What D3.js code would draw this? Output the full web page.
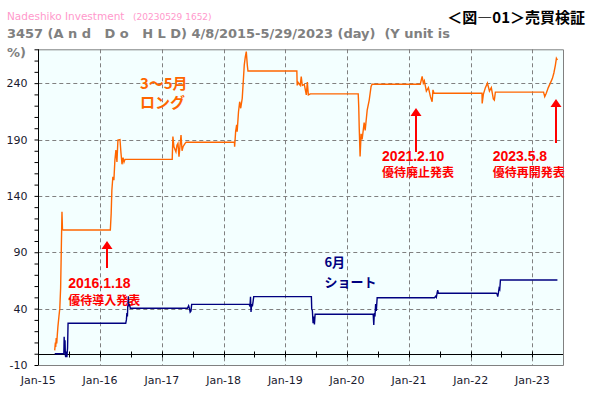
<!DOCTYPE html>
<html>
<head>
<meta charset="utf-8">
<script src="https://cdn.jsdelivr.net/npm/d3@7"></script>
<style>
  body { margin: 0; background: #ffffff; }
  svg { display: block; }
  text { white-space: pre; }
</style>
</head>
<body>
<svg id="chart" width="590" height="396"></svg>
<script>
// 3~5月 long (orange)
const longSeries = [
  ["2015-04-08", 3], ["2015-04-12", 10], ["2015-04-14", 6], ["2015-04-17", 14],
  ["2015-04-20", 9], ["2015-04-23", 16], ["2015-04-27", 24], ["2015-05-03", 33],
  ["2015-05-08", 40], ["2015-05-13", 58], ["2015-05-17", 92], ["2015-05-21", 126],
  ["2015-05-24", 110], ["2015-05-29", 109.7],
  ["2016-03-02", 109.7], ["2016-03-07", 124.5], ["2016-03-11", 145], ["2016-03-17", 157],
  ["2016-03-23", 154], ["2016-03-29", 171.8], ["2016-04-04", 180.7], ["2016-04-10", 170],
  ["2016-04-16", 189.6], ["2016-04-28", 190], ["2016-05-04", 178], ["2016-05-10", 168],
  ["2016-05-16", 174], ["2016-05-22", 170], ["2016-05-28", 172.4],
  ["2017-03-03", 172.4], ["2017-03-07", 192.6], ["2017-03-13", 183.6], ["2017-03-25", 179],
  ["2017-03-31", 185], ["2017-04-06", 186.6], ["2017-04-12", 174.7], ["2017-04-24", 194],
  ["2017-04-30", 180], ["2017-05-06", 183.6], ["2017-05-18", 186.6], ["2017-05-24", 187.5],
  ["2018-03-06", 187.5], ["2018-03-07", 183.6], ["2018-03-13", 197], ["2018-03-19", 203],
  ["2018-03-22", 197], ["2018-03-30", 214.6], ["2018-04-06", 223.5], ["2018-04-12", 217.7],
  ["2018-04-21", 226.5], ["2018-04-27", 241], ["2018-05-03", 256], ["2018-05-09", 263],
  ["2018-05-15", 268], ["2018-05-21", 256], ["2018-05-25", 250.7],
  ["2019-03-10", 250.7], ["2019-03-12", 238], ["2019-03-18", 240.5], ["2019-03-30", 238],
  ["2019-04-05", 245.7], ["2019-04-11", 238], ["2019-04-23", 238.8], ["2019-05-05", 229.5],
  ["2019-05-11", 241], ["2019-05-17", 229.5], ["2019-05-29", 230.5],
  ["2020-03-07", 230.5], ["2020-03-10", 219], ["2020-03-13", 200], ["2020-03-18", 175],
  ["2020-03-24", 195], ["2020-03-30", 190], ["2020-04-11", 205], ["2020-04-17", 198],
  ["2020-04-29", 216], ["2020-05-11", 225], ["2020-05-22", 237], ["2020-05-28", 239],
  ["2021-03-09", 239], ["2021-03-20", 246], ["2021-03-27", 240], ["2021-04-02", 242],
  ["2021-04-14", 233], ["2021-04-26", 236], ["2021-05-08", 228], ["2021-05-18", 223.5],
  ["2021-05-23", 234], ["2021-05-29", 231],
  ["2022-03-09", 231], ["2022-03-10", 222], ["2022-03-17", 230], ["2022-03-29", 236],
  ["2022-04-10", 240], ["2022-04-22", 233], ["2022-05-03", 236], ["2022-05-15", 226],
  ["2022-05-21", 225], ["2022-05-27", 232],
  ["2023-03-08", 232], ["2023-03-15", 228], ["2023-03-24", 231], ["2023-04-05", 236],
  ["2023-04-17", 240], ["2023-04-29", 244], ["2023-05-08", 249], ["2023-05-17", 256],
  ["2023-05-23", 262], ["2023-05-29", 260.5]
];

// 6月 short (navy)
const shortSeries = [
  ["2015-04-08", 0], ["2015-06-01", 0], ["2015-06-03", 15], ["2015-06-05", 3],
  ["2015-06-08", 12], ["2015-06-10", -1], ["2015-06-12", -3], ["2015-06-15", 2],
  ["2015-06-19", -3], ["2015-06-23", 5], ["2015-06-26", 27], ["2015-06-30", 27],
  ["2016-06-01", 27], ["2016-06-05", 30], ["2016-06-08", 36], ["2016-06-11", 33],
  ["2016-06-14", 46], ["2016-06-17", 51], ["2016-06-20", 42], ["2016-06-24", 44],
  ["2016-06-28", 40.3],
  ["2017-06-01", 40.3], ["2017-06-08", 42.5], ["2017-06-13", 40], ["2017-06-17", 37],
  ["2017-06-22", 38], ["2017-06-26", 43.8],
  ["2018-06-01", 43.8], ["2018-06-06", 42], ["2018-06-09", 50.6], ["2018-06-12", 37],
  ["2018-06-16", 44], ["2018-06-20", 42], ["2018-06-24", 46], ["2018-06-28", 50.6],
  ["2019-06-04", 50.6], ["2019-06-06", 40], ["2019-06-10", 38], ["2019-06-14", 27],
  ["2019-06-18", 33], ["2019-06-22", 26], ["2019-06-26", 35],
  ["2020-06-01", 35], ["2020-06-04", 34], ["2020-06-07", 25.5], ["2020-06-10", 36],
  ["2020-06-14", 33], ["2020-06-18", 44], ["2020-06-22", 38], ["2020-06-27", 49.7],
  ["2021-06-01", 49.7], ["2021-06-08", 51], ["2021-06-12", 50], ["2021-06-16", 53.6],
  ["2021-06-20", 56.5], ["2021-06-24", 53.6],
  ["2022-06-01", 53.6], ["2022-06-06", 53], ["2022-06-10", 50.6], ["2022-06-14", 54],
  ["2022-06-18", 58], ["2022-06-22", 57], ["2022-06-26", 65.4], ["2023-05-29", 65.4]
];

const yLabels = [-10, 40, 90, 140, 190, 240];
const xLabels = ["2015-01-01", "2016-01-01", "2017-01-01", "2018-01-01", "2019-01-01",
                 "2020-01-01", "2021-01-01", "2022-01-01", "2023-01-01"];

// red call-outs: arrow at date, from value `tail` up to value `tip`
const events = [
  { date: "2016-02-09", tip: 100, tail: 76, text: ["2016.1.18", "優待導入発表"], tx: "2015-06-27", ty: 58 },
  { date: "2021-02-13", tip: 218, tail: 179, text: ["2021.2.10", "優待廃止発表"], tx: "2020-07-26", ty: 171 },
  { date: "2023-05-23", tip: 226, tail: 187, text: ["2023.5.8", "優待再開発表"], tx: "2022-05-11", ty: 171 }
];

const parseDate = d3.timeParse("%Y-%m-%d");
const plotLeft = 38.3, plotRight = 563, plotTop = 49.3, plotBottom = 365;

const x = d3.scaleTime()
  .domain([parseDate("2015-01-01"), parseDate("2023-07-01")])
  .range([plotLeft, plotRight]);
const y = d3.scaleLinear().domain([-10, 270]).range([plotBottom, plotTop]);

const svg = d3.select("#chart");
const jp = "'Noto Sans CJK JP', sans-serif";
const latin = "'DejaVu Sans', Verdana, sans-serif";

// titles
svg.append("text")
  .attr("x", 7).attr("y", 20)
  .style("font-family", latin).style("font-size", "10.5px").style("fill", "#ff99cc")
  .text("Nadeshiko Investment");
svg.append("text")
  .attr("x", 133).attr("y", 20)
  .style("font-family", latin).style("font-size", "9px").style("fill", "#ff99cc")
  .text("(20230529 1652)");
svg.append("text")
  .attr("x", 585).attr("y", 23)
  .attr("text-anchor", "end")
  .style("font-family", jp).style("font-size", "15px").style("font-weight", "bold").style("fill", "#000")
  .text("＜図―01＞売買検証");
svg.append("text")
  .attr("x", 7).attr("y", 38)
  .attr("textLength", 443).attr("lengthAdjust", "spacing")
  .style("font-family", latin).style("font-size", "13px").style("font-weight", "bold").style("fill", "#808080")
  .text("3457 (A n d   D o   H L D) 4/8/2015-5/29/2023 (day)  (Y unit is");
svg.append("text")
  .attr("x", 7).attr("y", 57)
  .style("font-family", latin).style("font-size", "13px").style("font-weight", "bold").style("fill", "#808080")
  .text("%)");

// plot background
svg.append("rect")
  .attr("x", plotLeft).attr("y", plotTop)
  .attr("width", plotRight - plotLeft).attr("height", plotBottom - plotTop)
  .attr("fill", "#f3ffff");

// grid
const grid = svg.append("g").attr("class", "grid")
  .attr("stroke", "#808080").attr("stroke-dasharray", "4,3").attr("stroke-width", 1);
grid.selectAll("line.h")
  .data(yLabels.filter((v) => v > -10))
  .enter().append("line")
  .attr("x1", plotLeft).attr("x2", plotRight)
  .attr("y1", (d) => Math.round(y(d)) + 0.5).attr("y2", (d) => Math.round(y(d)) + 0.5);
grid.selectAll("line.v")
  .data(xLabels.slice(1))
  .enter().append("line")
  .attr("x1", (d) => Math.round(x(parseDate(d))) + 0.5).attr("x2", (d) => Math.round(x(parseDate(d))) + 0.5)
  .attr("y1", plotTop).attr("y2", plotBottom);

// zero line with half-year ticks
const y0 = Math.round(y(0)) + 0.5;
svg.append("line")
  .attr("x1", plotLeft).attr("x2", plotRight).attr("y1", y0).attr("y2", y0)
  .attr("stroke", "#000").attr("stroke-width", 1);
svg.append("g")
  .selectAll("line")
  .data(d3.timeMonth.every(6).range(parseDate("2015-07-01"), parseDate("2023-07-02")))
  .enter().append("line")
  .attr("x1", (d) => Math.round(x(d)) + 0.5).attr("x2", (d) => Math.round(x(d)) + 0.5)
  .attr("y1", y0 - 3).attr("y2", y0 + 3)
  .attr("stroke", "#000");

// series
const line = d3.line()
  .x((d) => x(parseDate(d[0])))
  .y((d) => y(d[1]));

svg.append("path")
  .datum(longSeries)
  .attr("fill", "none")
  .attr("stroke", "#ff6600")
  .attr("stroke-width", 1.4)
  .attr("d", line);

svg.append("path")
  .datum(shortSeries)
  .attr("fill", "none")
  .attr("stroke", "#000080")
  .attr("stroke-width", 1.4)
  .attr("d", line);

// frame
svg.append("path")
  .attr("d", `M${plotLeft},${plotTop + 0.5}H${plotRight + 0.5}V${plotBottom + 0.5}H${plotLeft}`)
  .attr("fill", "none").attr("stroke", "#808080").attr("stroke-width", 1);

// y axis
const yAxis = svg.append("g")
  .attr("transform", `translate(${Math.round(plotLeft) + 0.5},0)`)
  .call(d3.axisLeft(y).tickValues(d3.range(-10, 271, 10)).tickSize(4).tickPadding(7)
    .tickFormat((d) => (yLabels.includes(d) ? d : "")));
yAxis.select(".domain").attr("stroke", "#000").attr("d", `M0,${plotTop}V${plotBottom}`);
yAxis.selectAll(".tick line").attr("stroke", "#000");
yAxis.selectAll(".tick text")
  .style("font-family", latin).style("font-size", "11px").style("fill", "#1a1a2e");

// x labels
svg.append("g")
  .selectAll("text")
  .data(xLabels)
  .enter().append("text")
  .attr("x", (d) => x(parseDate(d)))
  .attr("y", 384)
  .attr("text-anchor", "middle")
  .style("font-family", latin).style("font-size", "11px").style("fill", "#1a1a2e")
  .text((d) => d3.timeFormat("%b-%y")(parseDate(d)));

// series labels
const seriesNotes = [
  { date: "2016-08-24", value: 235, gap: 19, lines: ["3～5月", "ロング"], color: "#ff6600", size: 15 },
  { date: "2019-08-20", value: 77, gap: 20.5, lines: ["6月", "ショート"], color: "#000080", size: 13 }
];
seriesNotes.forEach((n) => {
  svg.append("g")
    .selectAll("text")
    .data(n.lines)
    .enter().append("text")
    .attr("x", x(parseDate(n.date)))
    .attr("y", (d, i) => y(n.value) + i * n.gap)
    .style("font-family", jp).style("font-size", n.size + "px").style("font-weight", "bold")
    .style("fill", n.color)
    .text((d) => d);
});

// event arrows and texts
const ev = svg.append("g").attr("class", "events");
events.forEach((e) => {
  const ax = Math.round(x(parseDate(e.date)));
  const tipY = y(e.tip);
  ev.append("line")
    .attr("x1", ax).attr("x2", ax)
    .attr("y1", tipY + 6).attr("y2", y(e.tail))
    .attr("stroke", "#ff0000").attr("stroke-width", 2);
  ev.append("path")
    .attr("d", `M${ax},${tipY}L${ax + 5.5},${tipY + 8}L${ax - 5.5},${tipY + 8}Z`)
    .attr("fill", "#ff0000");
  ev.append("text")
    .attr("x", x(parseDate(e.tx))).attr("y", y(e.ty))
    .style("font-family", "'Liberation Sans', Arial, sans-serif").style("font-size", "14px")
    .style("font-weight", "bold").style("fill", "#ff0000")
    .text(e.text[0]);
  ev.append("text")
    .attr("x", x(parseDate(e.tx))).attr("y", y(e.ty) + 16.5)
    .style("font-family", jp).style("font-size", "12px")
    .style("font-weight", "bold").style("fill", "#ff0000")
    .text(e.text[1]);
});
</script>
</body>
</html>
